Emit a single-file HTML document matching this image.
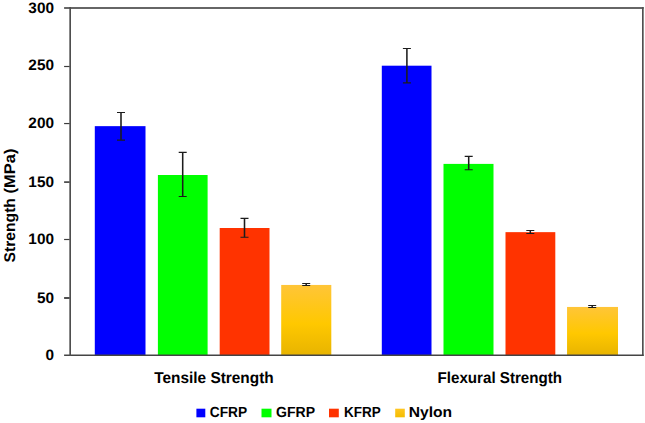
<!DOCTYPE html>
<html lang="en"><head><meta charset="utf-8"><title>Strength chart</title>
<style>
html,body{margin:0;padding:0;background:#fff;}
body{width:645px;height:423px;overflow:hidden;}
svg{display:block;}
text{fill:#000;text-rendering:geometricPrecision;}
</style></head><body>
<svg width="645" height="423" viewBox="0 0 645 423">
<defs>
<linearGradient id="gy" x1="0" y1="0" x2="0" y2="1">
<stop offset="0" stop-color="#ffc538"/>
<stop offset="0.55" stop-color="#ffc800"/>
<stop offset="1" stop-color="#e8b400"/>
</linearGradient>
<linearGradient id="gl" x1="0" y1="0" x2="0" y2="1">
<stop offset="0" stop-color="#ffc622"/>
<stop offset="1" stop-color="#f4bd00"/>
</linearGradient>
</defs>
<rect x="0" y="0" width="645" height="423" fill="#ffffff"/>
<g>
<rect x="94.80" y="126.15" width="50.70" height="228.85" fill="#0000ff"/>
<rect x="157.90" y="175.00" width="49.70" height="180.00" fill="#00ff00"/>
<rect x="219.70" y="228.00" width="49.80" height="127.00" fill="#ff3300"/>
<rect x="281.20" y="284.95" width="50.10" height="70.05" fill="url(#gy)"/>
<rect x="381.80" y="65.70" width="49.70" height="289.30" fill="#0000ff"/>
<rect x="443.50" y="163.90" width="50.00" height="191.10" fill="#00ff00"/>
<rect x="505.50" y="232.15" width="49.80" height="122.85" fill="#ff3300"/>
<rect x="567.05" y="306.95" width="50.95" height="48.05" fill="url(#gy)"/>
</g>
<g stroke="#1c1c1c" fill="none">
<path d="M121.00 112.50V140.10" stroke-width="1.55"/>
<path d="M117.00 112.50H125.00M117.00 140.10H125.00" stroke-width="1.1"/>
<path d="M182.70 152.40V196.50" stroke-width="1.55"/>
<path d="M178.70 152.40H186.70M178.70 196.50H186.70" stroke-width="1.1"/>
<path d="M244.50 218.40V237.20" stroke-width="1.55"/>
<path d="M240.50 218.40H248.50M240.50 237.20H248.50" stroke-width="1.1"/>
<path d="M306.20 283.50V285.50" stroke-width="1.55"/>
<path d="M302.20 283.50H310.20M302.20 285.50H310.20" stroke-width="1.1"/>
<path d="M406.90 48.50V82.90" stroke-width="1.55"/>
<path d="M402.90 48.50H410.90M402.90 82.90H410.90" stroke-width="1.1"/>
<path d="M468.70 156.40V169.80" stroke-width="1.55"/>
<path d="M464.70 156.40H472.70M464.70 169.80H472.70" stroke-width="1.1"/>
<path d="M530.30 230.50V233.50" stroke-width="1.55"/>
<path d="M526.30 230.50H534.30M526.30 233.50H534.30" stroke-width="1.1"/>
<path d="M592.20 305.50V307.50" stroke-width="1.55"/>
<path d="M588.20 305.50H596.20M588.20 307.50H596.20" stroke-width="1.1"/>
</g>
<g fill="none">
<path d="M64.1 8H643.67" stroke="#666666" stroke-width="2"/>
<path d="M642.835 7V356" stroke="#505050" stroke-width="1.67"/>
<path d="M64.1 355.2H643.67" stroke="#444444" stroke-width="1.6"/>
<path d="M70.165 7V356" stroke="#4e4e4e" stroke-width="1.67"/>
</g>
<g stroke="#3c3c3c">
<path d="M64.1 66.5H69.6" stroke-width="1.2"/>
<path d="M64.1 123.55H69.6" stroke-width="1.2"/>
<path d="M64.1 182.1H69.6" stroke-width="1.6"/>
<path d="M64.1 239.5H69.6" stroke-width="1.2"/>
<path d="M64.1 298.0H69.6" stroke-width="1.8"/>
</g>
<g font-family="'Liberation Sans', Arial, sans-serif" font-weight="bold" font-size="15.2" text-anchor="end">
<text x="54.0" y="12.8" textLength="25.65" lengthAdjust="spacingAndGlyphs">300</text>
<text x="54.0" y="70.2" textLength="25.65" lengthAdjust="spacingAndGlyphs">250</text>
<text x="54.0" y="128.45" textLength="25.65" lengthAdjust="spacingAndGlyphs">200</text>
<text x="54.0" y="186.8" textLength="25.65" lengthAdjust="spacingAndGlyphs">150</text>
<text x="54.0" y="244.3" textLength="25.65" lengthAdjust="spacingAndGlyphs">100</text>
<text x="54.0" y="302.8" textLength="17.10" lengthAdjust="spacingAndGlyphs">50</text>
<text x="54.0" y="359.8" textLength="8.55" lengthAdjust="spacingAndGlyphs">0</text>
</g>
<text font-family="'Liberation Sans', Arial, sans-serif" font-weight="bold" font-size="15.5" transform="translate(15.3 0) rotate(-90)"><tspan x="-262.4" y="0" textLength="64.3" lengthAdjust="spacingAndGlyphs">Strength</tspan> <tspan x="-193.4" y="0" textLength="44.8" lengthAdjust="spacingAndGlyphs">(MPa)</tspan></text>
<text font-family="'Liberation Sans', Arial, sans-serif" font-weight="bold" font-size="15.8" x="154.2" y="383.1" textLength="119.5" lengthAdjust="spacingAndGlyphs">Tensile Strength</text>
<text font-family="'Liberation Sans', Arial, sans-serif" font-weight="bold" font-size="15.8" x="437.5" y="383.1" textLength="124.6" lengthAdjust="spacingAndGlyphs">Flexural Strength</text>
<rect x="196.4" y="408.7" width="8.9" height="8.6" fill="#0000ff"/>
<text font-family="'Liberation Sans', Arial, sans-serif" font-weight="bold" font-size="14.7" x="209.8" y="417.45" textLength="37.4" lengthAdjust="spacingAndGlyphs">CFRP</text>
<rect x="261.5" y="408.7" width="10.0" height="8.6" fill="#00ff00"/>
<text font-family="'Liberation Sans', Arial, sans-serif" font-weight="bold" font-size="14.7" x="276.0" y="417.45" textLength="39.0" lengthAdjust="spacingAndGlyphs">GFRP</text>
<rect x="329.0" y="408.7" width="9.8" height="8.6" fill="#ff3300"/>
<text font-family="'Liberation Sans', Arial, sans-serif" font-weight="bold" font-size="14.7" x="344.0" y="417.45" textLength="36.7" lengthAdjust="spacingAndGlyphs">KFRP</text>
<rect x="395.2" y="408.7" width="9.6" height="8.6" fill="url(#gl)"/>
<text font-family="'Liberation Sans', Arial, sans-serif" font-weight="bold" font-size="14.7" x="408.7" y="417.45" textLength="43.4" lengthAdjust="spacingAndGlyphs">Nylon</text>
</svg>
</body></html>
